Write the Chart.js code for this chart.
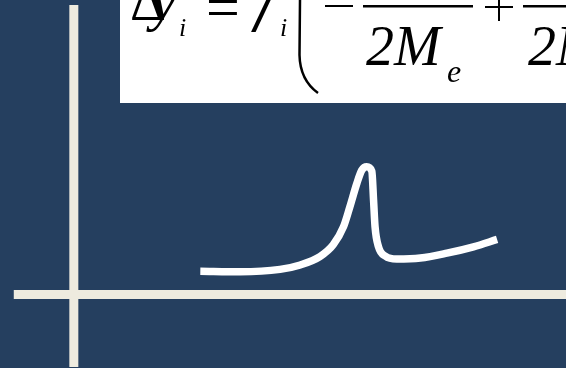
<!DOCTYPE html>
<html>
<head>
<meta charset="utf-8">
<script src="https://cdn.jsdelivr.net/npm/chart.js@4"></script>
<style>
  html, body { margin: 0; padding: 0; background: #253f5f; overflow: hidden; }
  #wrap { width: 566px; height: 368px; }
</style>
</head>
<body>
<div id="wrap"><canvas id="peakChart" width="566" height="368"></canvas></div>
<script>
// curve values (arbitrary units, origin at the axes crossing)
const curveX = [2.57, 3.38, 4.19, 4.6, 5.0, 5.27, 5.48, 5.61, 5.75, 5.85, 5.95, 6.055, 6.09, 6.12, 6.19, 6.33, 6.56, 7.04, 7.58, 8.12, 8.6];
const curveY = [0.47, 0.46, 0.51, 0.6, 0.77, 1.01, 1.38, 1.79, 2.26, 2.53, 2.6, 2.51, 1.92, 1.38, 0.97, 0.78, 0.72, 0.74, 0.84, 0.97, 1.12];

// axis extents
const axisX = [-1.22, 10];
const axisY = [-1.48, 5.9];

// formula pieces
const topRow = ['Δ', 'y', 'i', '=', 'f', 'i'];
const denominators = ['2M', 'e', '2M'];

const axisColor = '#eeebdf';
const serif = '"Liberation Serif", "DejaVu Serif", serif';

// formula box drawn over the chart
const formulaPlugin = {
    id: 'formula',
    afterDraw(chart) {
        const ctx = chart.ctx;
        ctx.save();
        ctx.fillStyle = '#ffffff';
        ctx.fillRect(120, 0, 446, 103);

        ctx.fillStyle = '#000000';
        ctx.textBaseline = 'alphabetic';
        ctx.textAlign = 'left';
        // top row
        ctx.font = '56px ' + serif;
        ctx.fillText(topRow[0], 130, 20);
        ctx.font = 'italic 56px ' + serif;
        ctx.fillText(topRow[1], 151, 20);
        ctx.font = 'italic 26px ' + serif;
        ctx.fillText(topRow[2], 179, 36);
        ctx.font = '60px ' + serif;
        ctx.fillText(topRow[3], 206, 27);

        // f leans more, like a Times italic
        ctx.save();
        ctx.translate(254, 20);
        ctx.transform(1, 0, -0.3, 1, 0, 0);
        ctx.font = 'italic 56px ' + serif;
        ctx.fillText(topRow[4], 0, 0);
        ctx.restore();

        ctx.font = 'italic 26px ' + serif;
        ctx.fillText(topRow[5], 280, 36);

        // big left parenthesis
        ctx.strokeStyle = '#000000';
        ctx.lineWidth = 2.5;
        ctx.beginPath();
        ctx.moveTo(300, 0);
        ctx.lineTo(299.5, 55);
        ctx.quadraticCurveTo(300, 80, 318, 93);
        ctx.stroke();

        // minus, fraction bars, plus
        ctx.fillRect(325, 5, 28, 2);
        ctx.fillRect(363, 5, 110, 2.5);
        ctx.fillRect(485, 6, 28, 2);
        ctx.fillRect(498, 0, 2, 21);
        ctx.fillRect(523, 5, 50, 2.5);

        // denominators
        ctx.font = 'italic 56px ' + serif;
        ctx.fillText(denominators[0], 366, 65);
        ctx.font = 'italic 32px ' + serif;
        ctx.fillText(denominators[1], 447, 82);
        ctx.font = 'italic 56px ' + serif;
        ctx.fillText(denominators[2], 528, 65);
        ctx.restore();
    }
};

const ctx = document.getElementById('peakChart').getContext('2d');
new Chart(ctx, {
    type: 'line',
    data: {
        datasets: [
            {
                data: axisX.map(x => ({ x: x, y: 0 })),
                borderColor: axisColor,
                borderWidth: 9,
                borderCapStyle: 'butt',
                pointRadius: 0
            },
            {
                data: axisY.map(y => ({ x: 0, y: y })),
                borderColor: axisColor,
                borderWidth: 9,
                borderCapStyle: 'butt',
                pointRadius: 0
            },
            {
                data: curveX.map((x, i) => ({ x: x, y: curveY[i] })),
                borderColor: '#ffffff',
                borderWidth: 7.5,
                borderCapStyle: 'butt',
                cubicInterpolationMode: 'monotone',
                pointRadius: 0
            }
        ]
    },
    options: {
        responsive: false,
        animation: false,
        layout: { padding: 0 },
        scales: {
            x: { type: 'linear', min: -1.5, max: 10, display: false },
            y: { min: -1.5, max: 6, display: false }
        },
        plugins: {
            legend: { display: false },
            tooltip: { enabled: false }
        }
    },
    plugins: [formulaPlugin]
});
</script>
</body>
</html>
